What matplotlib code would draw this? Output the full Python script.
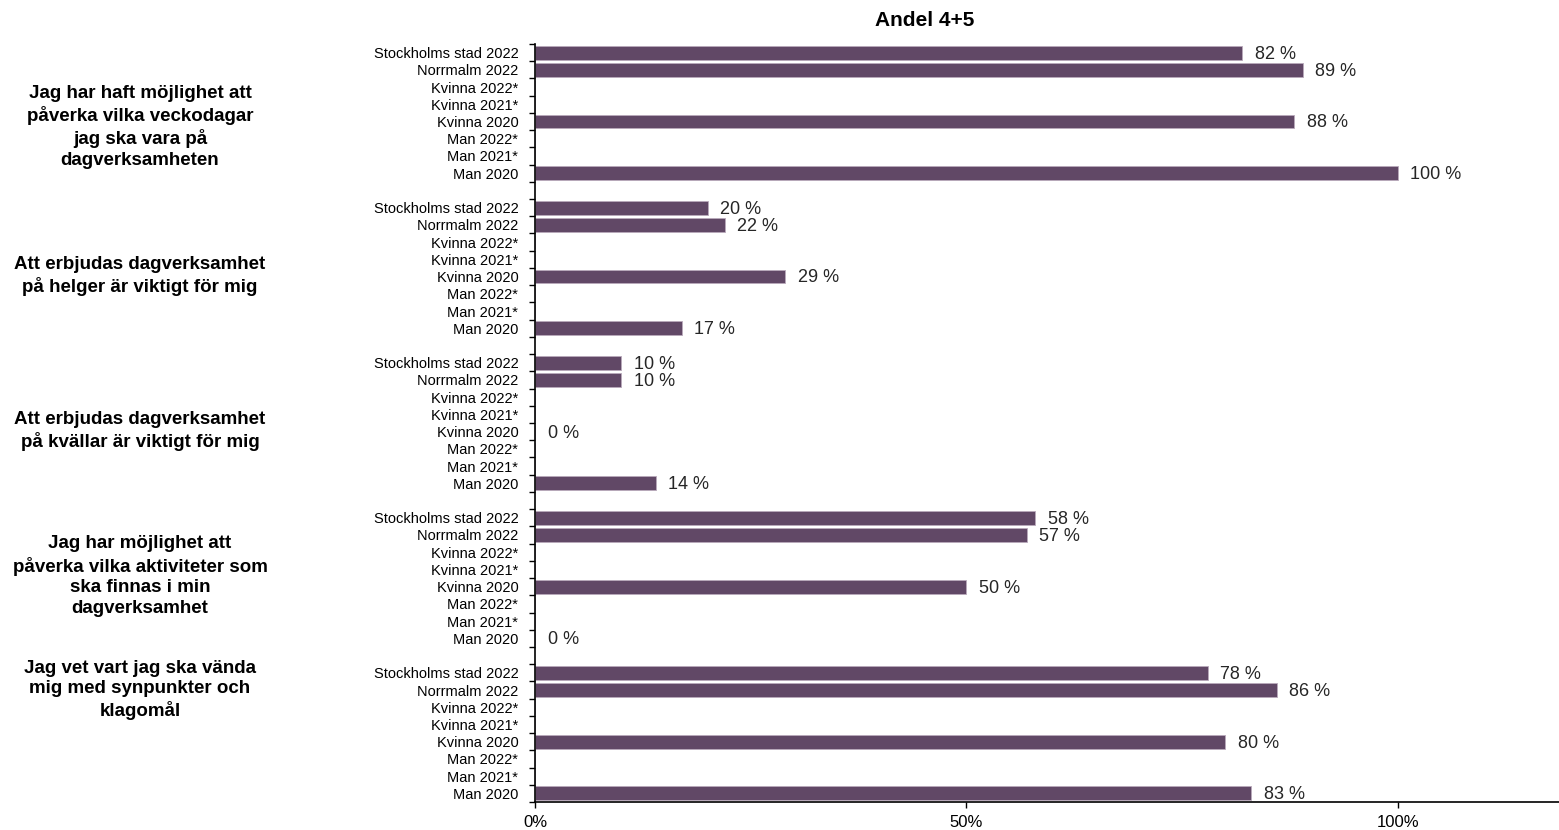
import numpy as np
import matplotlib.pyplot as plt
from matplotlib.ticker import FixedLocator, FuncFormatter

plt.rcParams['font.family'] = ['Liberation Sans', 'DejaVu Sans']

# data
rows = ["Stockholms stad 2022", "Norrmalm 2022", "Kvinna 2022*", "Kvinna 2021*",
        "Kvinna 2020", "Man 2022*", "Man 2021*", "Man 2020"]
questions = [
    "Jag har haft möjlighet att\npåverka vilka veckodagar\njag ska vara på\ndagverksamheten",
    "Att erbjudas dagverksamhet\npå helger är viktigt för mig",
    "Att erbjudas dagverksamhet\npå kvällar är viktigt för mig",
    "Jag har möjlighet att\npåverka vilka aktiviteter som\nska finnas i min\ndagverksamhet",
    "Jag vet vart jag ska vända\nmig med synpunkter och\nklagomål",
]
nan = np.nan
q1 = [82, 89, nan, nan, 88, nan, nan, 100]
q2 = [20, 22, nan, nan, 29, nan, nan, 17]
q3 = [10, 10, nan, nan, 0, nan, nan, 14]
q4 = [58, 57, nan, nan, 50, nan, nan, 0]
q5 = [78, 86, nan, nan, 80, nan, nan, 83]
values = [q1, q2, q3, q4, q5]

bar_color = '#614866'

W, H = 1559, 830
fig = plt.figure(figsize=(W / 100, H / 100), dpi=100)
ax = fig.add_axes([535 / W, 1 - 802 / H, 1 - 535 / W, (802 - 44) / H])

ypos, ylabels, xs = [], [], []
for g, vals in enumerate(values):
    for i, (lab, v) in enumerate(zip(rows, vals)):
        y = g * 9 + i
        ypos.append(y)
        ylabels.append(lab)
        xs.append(v / 100 if not np.isnan(v) else nan)

xs = np.array(xs)
ax.barh(ypos, np.nan_to_num(xs), height=0.8, color=bar_color,
        edgecolor='#b9a9bb', linewidth=0.6)

for y, v in zip(ypos, xs):
    if not np.isnan(v):
        ax.annotate(f"{int(round(v * 100))} %", (v, y), xytext=(9, -1),
                    textcoords='offset points', ha='left', va='center',
                    fontsize=13, color='#262626')

nrows = len(values) * 9 - 1
ax.set_ylim(nrows - 0.5, -0.5)
ax.set_xlim(0, 1.187)

ax.set_yticks(ypos)
ax.set_yticklabels(ylabels, fontsize=10.5)
ax.tick_params(axis='y', which='major', length=0, pad=12)
ax.yaxis.set_minor_locator(FixedLocator(np.arange(-0.5, nrows, 1.0)))
ax.tick_params(axis='y', which='minor', length=4, width=1, direction='out')

ax.set_xticks([0, 0.5, 1.0])
ax.xaxis.set_major_formatter(FuncFormatter(lambda x, p: f"{int(round(x * 100))}%"))
ax.tick_params(axis='x', length=4, width=1, labelsize=12, pad=5)

for s in ['top', 'right']:
    ax.spines[s].set_visible(False)
for s in ['left', 'bottom']:
    ax.spines[s].set_linewidth(1.2)
    ax.spines[s].set_color('black')

# question labels on the left
q_centers = [127, 276, 431, 576, 690]
for q, yc in zip(questions, q_centers):
    fig.text(140 / W, 1 - yc / H, q, ha='center', va='center', fontsize=13.5,
             fontweight='bold', linespacing=1.27)

fig.text(925 / W, 1 - 20 / H, "Andel 4+5", ha='center', va='center',
         fontsize=15, fontweight='bold')

fig.savefig('out.png', dpi=100)
